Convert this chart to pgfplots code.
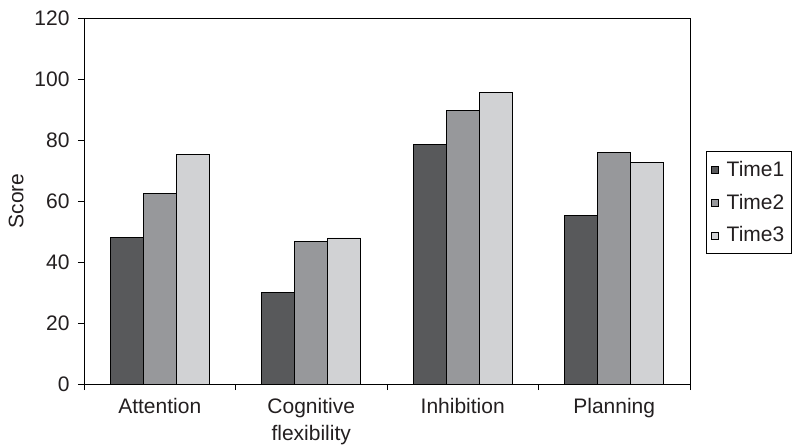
\documentclass[border=0pt]{standalone}
\usepackage{fontspec}
\setmainfont{Liberation Sans}
\usepackage{pgfplots}
\pgfplotsset{compat=1.18}
\definecolor{tone}{HTML}{58595B}
\definecolor{ttwo}{HTML}{97989B}
\definecolor{tthree}{HTML}{D1D2D4}
\definecolor{txt}{HTML}{231F20}
\newcommand{\chartfont}{\fontsize{21}{27}\selectfont}

\begin{document}
\begin{tikzpicture}[font=\chartfont]
\useasboundingbox (0,0) rectangle (796pt,445pt);
\begin{axis}[
    at={(84pt,61pt)}, anchor=south west,
    scale only axis, width=606pt, height=366pt,
    ybar=0pt, bar width=33pt,
    xmin=-0.5, xmax=3.5, ymin=0, ymax=120,
    xtick={0,1,2,3},
    xticklabels={Attention, {Cognitive\\flexibility}, Inhibition, Planning},
    xticklabel style={align=center, text=txt, yshift=-5pt},
    minor xtick={-0.5,0.5,1.5,2.5,3.5},
    ytick={0,20,40,60,80,100,120},
    yticklabel style={text=txt, xshift=-5pt},
    /pgf/number format/assume math mode=true,
    tick align=outside,
    xtick pos=bottom, ytick pos=left,
    x tick style={draw=none},
    minor x tick style={draw=black, line width=0.8pt},
    y tick style={draw=black, line width=0.8pt},
    major tick length=6pt, minor tick length=6pt,
    axis line style={line width=0.8pt},
    ylabel={Score},
    ylabel style={at={(axis description cs:-0.112,0.5)}, anchor=center, text=txt},
    legend style={at={(axis description cs:1.026,0.637)}, anchor=north west,
        draw=black, line width=0.6pt, inner xsep=5pt, inner ysep=8pt, row sep=12pt,
        nodes={text=txt}},
    legend cell align=left,
    legend image code/.code={
        \draw[#1, line width=0.6pt] (2pt,-4pt) rectangle (9pt,3pt);
        \path (15pt,0pt);},
  ]
  \addplot[fill=tone, draw=black, line width=0.7pt] coordinates {(0,48) (1,30.1) (2,78.6) (3,55.4)};
  \addplot[fill=ttwo, draw=black, line width=0.7pt] coordinates {(0,62.4) (1,46.8) (2,89.8) (3,75.8)};
  \addplot[fill=tthree, draw=black, line width=0.7pt] coordinates {(0,75.3) (1,47.9) (2,95.7) (3,72.6)};
  \legend{Time1, Time2, Time3}
\end{axis}
\end{tikzpicture}
\end{document}
